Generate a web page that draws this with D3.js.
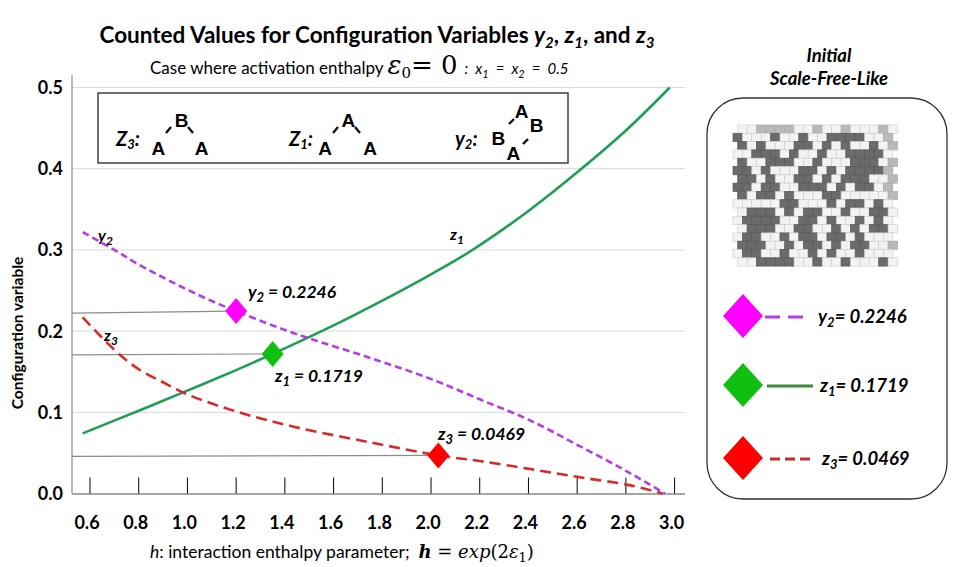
<!DOCTYPE html>
<html>
<head>
<meta charset="utf-8">
<script src="https://cdn.jsdelivr.net/npm/d3@7"></script>
<style>
  body { margin: 0; background: #ffffff; }
  text { font-family: Lato, "Open Sans", sans-serif; white-space: pre; }
</style>
</head>
<body>
<script>
//tick values for both axes
var hTicks = [0.6, 0.8, 1.0, 1.2, 1.4, 1.6, 1.8, 2.0, 2.2, 2.4, 2.6, 2.8, 3.0];
var yTicks = [0.0, 0.1, 0.2, 0.3, 0.4, 0.5];

//z1 curve (green, solid)
var z1H   = [0.57, 0.80, 0.97, 1.20, 1.35, 1.60, 1.79, 2.00, 2.16, 2.40, 2.61, 2.80, 2.98];
var z1Val = [0.074, 0.102, 0.123, 0.152, 0.1719, 0.207, 0.236, 0.270, 0.298, 0.348, 0.398, 0.447, 0.500];

//y2 curve (magenta, short dashes)
var y2H   = [0.57, 0.70, 0.80, 0.90, 1.00, 1.10, 1.20, 1.35, 1.50, 1.75, 2.00, 2.20, 2.40, 2.60, 2.80, 2.96];
var y2Val = [0.322, 0.300, 0.282, 0.266, 0.251, 0.237, 0.2246, 0.207, 0.191, 0.167, 0.141, 0.116, 0.091, 0.060, 0.028, 0.000];

//z3 curve (red, long dashes)
var z3H   = [0.57, 0.70, 0.80, 0.90, 1.00, 1.20, 1.44, 1.75, 2.03, 2.20, 2.41, 2.61, 2.82, 2.95];
var z3Val = [0.217, 0.177, 0.153, 0.137, 0.122, 0.101, 0.082, 0.063, 0.0469, 0.040, 0.030, 0.020, 0.010, 0.000];

//counted values (marked points)
var markH   = [1.20, 1.35, 2.03];
var markVal = [0.2246, 0.1719, 0.0469];

//initial lattice: # = dark site, . = light site, * = speckled edge
var latticeRows = [
    "..****..*..*...*.",
    "#...#..#..####..*",
    "#.#...##.#.#..#.*",
    "..###.#..#..####.",
    "#..###..#...###.*",
    "##.#...##.#.####*",
    "##.#..##.#.###..*",
    "##.##..###.#.##.*",
    "#.##.#...##.....*",
    ".....##...#.##.#.",
    ".###.#.##..#..##.",
    ".####..##.#..#.#.",
    ".###..##..#.#.##.",
    ".##..#.##.##.#...",
    "###..#.##.#.##..*",
    ".##..#..#.#..#...",
    "..####..#..#...#."
];

window.onload = function(){
    var w = 957, h = 567;

    var svg = d3.select("body")
        .append("svg")
        .attr("width", w)
        .attr("height", h);

    //scales
    var x = d3.scaleLinear().domain([0.6, 3.0]).range([90, 674.6]);
    var y = d3.scaleLinear().domain([0, 0.5]).range([493.5, 87.5]);
    var left = 72, right = 685;
    var serif = "'DejaVu Serif', serif";

    //write text made of pieces (italic, subscripts, other fonts)
    function rich(sel, parts, shift){
        var cur = 0;
        parts.forEach(function(p){
            var ts = sel.append("tspan").text(p.t);
            var s = p.sub ? shift : 0;
            if (s !== cur){ ts.attr("dy", s - cur); cur = s; }
            if (p.it) ts.style("font-style", "italic");
            if (p.font) ts.style("font-family", p.font);
            if (p.size) ts.style("font-size", p.size);
            if (p.w) ts.style("font-weight", p.w);
        });
        return sel;
    }

    function diamond(cx, cy, hw, hh){
        return "M" + cx + "," + (cy - hh) + "L" + (cx + hw) + "," + cy +
            "L" + cx + "," + (cy + hh) + "L" + (cx - hw) + "," + cy + "Z";
    }

    //title
    rich(svg.append("text")
        .attr("x", 377).attr("y", 43)
        .attr("text-anchor", "middle")
        .style("font-size", "22.5px").style("font-weight", "bold"),
        [{t: "Counted Values for Configuration Variables "},
         {t: "y", it: 1}, {t: "2", it: 1, sub: 1, size: "15px"}, {t: ", "},
         {t: "z", it: 1}, {t: "1", it: 1, sub: 1, size: "15px"}, {t: ", and "},
         {t: "z", it: 1}, {t: "3", it: 1, sub: 1, size: "15px"}], 5);

    //subtitle
    rich(svg.append("text")
        .attr("x", 150).attr("y", 74)
        .style("font-size", "17px"),
        [{t: "Case where activation enthalpy "},
         {t: "\u03b5", it: 1, font: serif, size: "26px"},
         {t: "0", sub: 1, font: serif, size: "15px"},
         {t: "= 0", font: serif, size: "26px"},
         {t: "  :  x", it: 1, size: "15px"}, {t: "1", it: 1, sub: 1, size: "11px"},
         {t: "  =  x", it: 1, size: "15px"}, {t: "2", it: 1, sub: 1, size: "11px"},
         {t: "  =  0.5", it: 1, size: "15px"}], 4);

    //gridlines
    svg.selectAll(".grid")
        .data(yTicks.filter(function(d){ return d > 0; }))
        .enter()
        .append("line")
        .attr("class", "grid")
        .attr("x1", left).attr("x2", right)
        .attr("y1", function(d){ return y(d); })
        .attr("y2", function(d){ return y(d); })
        .style("stroke", "#d9d9d9").style("stroke-width", 1);

    //y axis line and baseline
    svg.append("line")
        .attr("x1", left).attr("x2", left)
        .attr("y1", 75).attr("y2", y(0))
        .style("stroke", "#8c8c8c").style("stroke-width", 1.2);
    svg.append("line")
        .attr("x1", left).attr("x2", right)
        .attr("y1", y(0) + 0.5).attr("y2", y(0) + 0.5)
        .style("stroke", "#a6a6a6").style("stroke-width", 2.2);

    //y tick labels
    svg.selectAll(".ylab")
        .data(yTicks)
        .enter()
        .append("text")
        .attr("class", "ylab")
        .attr("x", 63)
        .attr("y", function(d){ return y(d) + 6.5; })
        .attr("text-anchor", "end")
        .style("font-size", "18px").style("font-weight", "bold")
        .text(function(d){ return d.toFixed(1); });

    //x ticks (standing on the baseline) and labels
    svg.selectAll(".xtick")
        .data(hTicks)
        .enter()
        .append("line")
        .attr("class", "xtick")
        .attr("x1", function(d){ return x(d); })
        .attr("x2", function(d){ return x(d); })
        .attr("y1", y(0) - 16).attr("y2", y(0))
        .style("stroke", "#000").style("stroke-width", 1);
    svg.selectAll(".xlab")
        .data(hTicks)
        .enter()
        .append("text")
        .attr("class", "xlab")
        .attr("x", function(d){ return x(d) - 3; })
        .attr("y", 529)
        .attr("text-anchor", "middle")
        .style("font-size", "18px").style("font-weight", "bold")
        .text(function(d){ return d.toFixed(1); });

    //axis titles
    svg.append("text")
        .attr("transform", "translate(23,333) rotate(-90)")
        .attr("text-anchor", "middle")
        .style("font-size", "15.5px").style("font-weight", "bold")
        .text("Configuration variable");

    rich(svg.append("text")
        .attr("x", 150).attr("y", 558)
        .style("font-size", "17.5px"),
        [{t: "h", it: 1}, {t: ": interaction enthalpy parameter;  "},
         {t: "h", it: 1, font: serif, size: "18px", w: "bold"},
         {t: " = ", font: serif, size: "18px"},
         {t: "exp", it: 1, font: serif, size: "18px"},
         {t: "(2", font: serif, size: "18px"},
         {t: "\u03b5", it: 1, font: serif, size: "18px"},
         {t: "1", sub: 1, font: serif, size: "13px"},
         {t: ")", font: serif, size: "18px"}], 4);

    //inset box with the three clusters
    svg.append("rect")
        .attr("x", 98).attr("y", 93)
        .attr("width", 470).attr("height", 70)
        .style("fill", "#fff").style("stroke", "#222").style("stroke-width", 1.3);

    var boxLabels = [
        {x: 116, parts: [{t: "Z", it: 1}, {t: "3", it: 1, sub: 1, size: "13px"}, {t: ":", it: 1}]},
        {x: 289, parts: [{t: "Z", it: 1}, {t: "1", it: 1, sub: 1, size: "13px"}, {t: ":", it: 1}]},
        {x: 455, parts: [{t: "y", it: 1}, {t: "2", it: 1, sub: 1, size: "13px"}, {t: ":", it: 1}]}
    ];
    boxLabels.forEach(function(b){
        rich(svg.append("text")
            .attr("x", b.x).attr("y", 146)
            .style("font-size", "20px").style("font-weight", "bold"),
            b.parts, 3);
    });

    var atoms = [
        ["B", 181.7, 119.7], ["A", 158.3, 148], ["A", 201.7, 148],
        ["A", 348.3, 119.7], ["A", 325, 148], ["A", 370, 148],
        ["A", 521.7, 111.3], ["B", 536.7, 124.7], ["B", 498.3, 138], ["A", 513.3, 153]
    ];
    svg.selectAll(".atom")
        .data(atoms)
        .enter()
        .append("text")
        .attr("class", "atom")
        .attr("x", function(d){ return d[1]; })
        .attr("y", function(d){ return d[2] + 7; })
        .attr("text-anchor", "middle")
        .style("font-family", "'Liberation Sans', Arial, sans-serif")
        .style("font-size", "19px").style("font-weight", "bold")
        .text(function(d){ return d[0]; });

    var bonds = [
        [166, 133, 171, 127], [188, 127, 193, 133],
        [333, 133, 338, 127], [355, 127, 360, 133],
        [509, 124, 514, 119], [523, 144, 528, 139]
    ];
    svg.selectAll(".bond")
        .data(bonds)
        .enter()
        .append("line")
        .attr("class", "bond")
        .attr("x1", function(d){ return d[0]; }).attr("y1", function(d){ return d[1]; })
        .attr("x2", function(d){ return d[2]; }).attr("y2", function(d){ return d[3]; })
        .style("stroke", "#111").style("stroke-width", 2.4);

    //guide lines from the axis to the marked points
    svg.selectAll(".guide")
        .data(markH)
        .enter()
        .append("line")
        .attr("class", "guide")
        .attr("x1", left)
        .attr("x2", function(d){ return x(d); })
        .attr("y1", function(d, i){ return y(markVal[i]) + (i === 0 ? 2 : 1); })
        .attr("y2", function(d, i){ return y(markVal[i]); })
        .style("stroke", "#8c8c8c").style("stroke-width", 1.2);

    //curves
    var line = d3.line()
        .x(function(d){ return x(d[0]); })
        .y(function(d){ return y(d[1]); })
        .curve(d3.curveCatmullRom.alpha(0.5));

    var series = [
        {h: z1H, v: z1Val, color: "#1f9e55", dash: null},
        {h: y2H, v: y2Val, color: "#b53ee2", dash: "7,4"},
        {h: z3H, v: z3Val, color: "#d42b2b", dash: "11,6"}
    ];
    series.forEach(function(s){
        svg.append("path")
            .datum(d3.zip(s.h, s.v))
            .attr("d", line)
            .style("fill", "none")
            .style("stroke", s.color)
            .style("stroke-width", 2.6)
            .style("stroke-dasharray", s.dash);
    });

    //marked points
    var markColors = ["#ff00ff", "#10c010", "#ff0000"];
    svg.selectAll(".mark")
        .data(markH)
        .enter()
        .append("path")
        .attr("class", "mark")
        .attr("d", function(d, i){ return diamond(x(d), y(markVal[i]), 11, 13); })
        .style("fill", function(d, i){ return markColors[i]; });

    //labels in the plot
    var subs = ["2", "1", "3"];
    var letters = ["y", "z", "z"];
    var valPos = [[248, 298], [275, 382], [438, 440]];
    markVal.forEach(function(v, i){
        rich(svg.append("text")
            .attr("x", valPos[i][0]).attr("y", valPos[i][1])
            .style("font-size", "17.5px").style("font-weight", "bold").style("font-style", "italic"),
            [{t: letters[i]}, {t: subs[i], sub: 1, size: "13px"}, {t: " = " + v.toFixed(4)}], 4);
    });
    var namePos = [[98, 241], [450, 240], [104, 341]];
    ["y2", "z1", "z3"].forEach(function(n, i){
        rich(svg.append("text")
            .attr("x", namePos[i][0]).attr("y", namePos[i][1])
            .style("font-size", "16px").style("font-weight", "bold").style("font-style", "italic"),
            [{t: n[0]}, {t: n[1], sub: 1, size: "12px"}], 4);
    });

    //right panel
    svg.append("text")
        .attr("x", 829).attr("y", 62)
        .attr("text-anchor", "middle")
        .style("font-size", "18.5px").style("font-weight", "bold").style("font-style", "italic")
        .text("Initial");
    svg.append("text")
        .attr("x", 829).attr("y", 85)
        .attr("text-anchor", "middle")
        .style("font-size", "18.5px").style("font-weight", "bold").style("font-style", "italic")
        .text("Scale-Free-Like");

    svg.append("rect")
        .attr("x", 707).attr("y", 98)
        .attr("width", 240).attr("height", 401)
        .attr("rx", 36).attr("ry", 36)
        .style("fill", "#fff").style("stroke", "#333").style("stroke-width", 1.3);

    //lattice picture
    var cw = 9.4, ch = 8.3, gx = 733, gy = 125;
    var cells = [];
    latticeRows.forEach(function(row, r){
        row.split("").forEach(function(c, k){
            cells.push({r: r, k: k, c: c});
        });
    });
    var cellFill = {"#": "#6b6b6b", ".": "#f3f3f3", "*": "#b9b9b9"};
    var cellLine = {"#": "#585858", ".": "#cfcfcf", "*": "#a8a8a8"};
    svg.selectAll(".cell")
        .data(cells)
        .enter()
        .append("rect")
        .attr("class", "cell")
        .attr("x", function(d){ return gx + d.k * cw + (d.r % 2 === 0 ? cw / 2 : 0); })
        .attr("y", function(d){ return gy + d.r * ch; })
        .attr("width", cw).attr("height", ch)
        .style("fill", function(d){ return cellFill[d.c]; })
        .style("stroke", function(d){ return cellLine[d.c]; })
        .style("stroke-width", 0.7);

    //legend
    var legY = [316, 385, 458];
    var legLine = [["#b53ee2", "15,8", 765, 807], ["#3c8c3c", null, 767, 813], ["#c62a2a", "10,5", 770, 815]];
    markVal.forEach(function(v, i){
        svg.append("line")
            .attr("x1", legLine[i][2]).attr("x2", legLine[i][3])
            .attr("y1", legY[i] + 1).attr("y2", legY[i] + 1)
            .style("stroke", legLine[i][0]).style("stroke-width", 3)
            .style("stroke-dasharray", legLine[i][1]);
        svg.append("path")
            .attr("d", diamond(743, legY[i], 20, 22))
            .style("fill", markColors[i]);
        rich(svg.append("text")
            .attr("x", 818 + i * 2).attr("y", legY[i] + 7)
            .style("font-size", "18.5px").style("font-weight", "bold").style("font-style", "italic"),
            [{t: letters[i]}, {t: subs[i], sub: 1, size: "13px"}, {t: "= " + v.toFixed(4)}], 4);
    });
};
</script>
</body>
</html>
